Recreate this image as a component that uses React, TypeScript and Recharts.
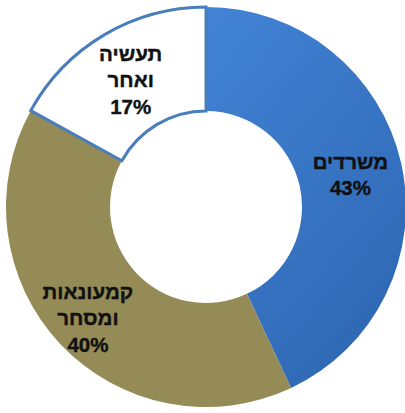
import { PieChart, Pie, Cell } from 'recharts'

const sectors = ['משרדים', 'קמעונאות ומסחר', 'תעשיה ואחר']
const shares = [43, 40, 17]
const labelLines = [['משרדים'], ['קמעונאות', 'ומסחר'], ['תעשיה', 'ואחר']]

const data = sectors.map((name, i) => ({ name, value: shares[i] }))

const fills = ['url(#blueGrad)', '#958b57', '#ffffff']
const strokes = ['none', 'none', '#4a7ebb']

const RADIAN = Math.PI / 180

function renderLabel(props: any) {
  const { cx, cy, midAngle, index, value } = props
  const r = index === 1 ? 162 : 148
  const x = cx + r * Math.cos(-midAngle * RADIAN)
  const y = cy + r * Math.sin(-midAngle * RADIAN)
  const lines = [...labelLines[index], `${value}%`]
  const lh = 26.5
  const top = y - ((lines.length - 1) * lh) / 2
  return (
    <text
      x={x}
      y={top}
      textAnchor="middle"
      fill="#111"
      stroke="#111"
      strokeWidth={0.4}
      fontFamily="'Liberation Sans', Arial, sans-serif"
      fontWeight="bold"
      fontSize={20.5}
    >
      {lines.map((l, i) => (
        <tspan key={i} x={x} y={top + i * lh} dominantBaseline="central">
          {l}
        </tspan>
      ))}
    </text>
  )
}

export default function App() {
  return (
    <div style={{ position: 'absolute', left: 0, top: 0, width: 405, height: 413, background: '#fff' }}>
      <PieChart width={405} height={413}>
        <defs>
          <linearGradient id="blueGrad" x1="0" y1="0" x2="0.6" y2="1">
            <stop offset="0%" stopColor="#4283d6" />
            <stop offset="100%" stopColor="#2f69b5" />
          </linearGradient>
        </defs>
        <Pie
          data={data}
          dataKey="value"
          cx={201}
          cy={202}
          innerRadius={96}
          outerRadius={200}
          startAngle={90}
          endAngle={-270}
          label={renderLabel}
          labelLine={false}
          isAnimationActive={false}
        >
          {data.map((entry, index) => (
            <Cell key={`cell-${index}`} fill={fills[index]} stroke={strokes[index]} strokeWidth={3} />
          ))}
        </Pie>
      </PieChart>
    </div>
  )
}
